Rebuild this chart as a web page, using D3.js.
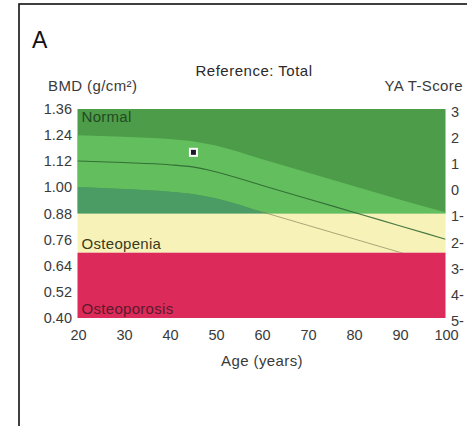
<!DOCTYPE html>
<html>
<head>
<meta charset="utf-8">
<script src="https://cdn.jsdelivr.net/npm/d3@7"></script>
<style>
  body { margin: 0; background: #fff; }
  svg { display: block; font-family: "Liberation Sans", Arial, sans-serif; }
</style>
</head>
<body>
<svg id="chart"></svg>
<script>
// reference curves (BMD g/cm2 by age)
var ages = [20, 30, 40, 45, 50, 60, 70, 80, 90, 100];
var upperBmd = [1.240, 1.232, 1.222, 1.212, 1.192, 1.130, 1.068, 1.006, 0.944, 0.886];
var meanBmd = [1.121, 1.114, 1.104, 1.094, 1.072, 1.010, 0.948, 0.886, 0.824, 0.762];
var lowerBmd = [1.002, 0.992, 0.980, 0.970, 0.950, 0.888, 0.826, 0.764, 0.702, 0.640];

var zoneNames = ["Normal", "Osteopenia", "Osteoporosis"];
var zoneLow = [0.88, 0.70, 0.40];
var zoneHigh = [1.36, 0.88, 0.70];

var bmdTicks = [1.36, 1.24, 1.12, 1.00, 0.88, 0.76, 0.64, 0.52, 0.40];
var tScoreValues = [3, 2, 1, 0, -1, -2, -3, -4, -5];
var tScoreLabels = ["3", "2", "1", "0", "1-", "2-", "3-", "4-", "5-"];
var ageTicks = [20, 30, 40, 50, 60, 70, 80, 90, 100];

var patientAge = [45.2];
var patientBmd = [1.161];

var width = 467, height = 426;
var svg = d3.select('#chart').attr('width', width).attr('height', height);

var x = d3.scaleLinear().domain([20, 100]).range([77.5, 445.5]);
var y = d3.scaleLinear().domain([0.40, 1.36]).range([318, 109]);
// young adult T-score: 0 at 1.00, 1 SD = 0.12
var yT = function (t) { return y(1.00 + 0.12 * t); };

// frame
svg.append('rect').attr('x', 19).attr('y', 4).attr('width', 460).attr('height', 440)
  .attr('fill', 'none').attr('stroke', '#111').attr('stroke-width', 1.6);

var defs = svg.append('defs');
defs.append('clipPath').attr('id', 'normalClip').append('rect')
  .attr('x', x(20)).attr('y', y(zoneHigh[0]))
  .attr('width', x(100) - x(20)).attr('height', y(zoneLow[0]) - y(zoneHigh[0]));
defs.append('clipPath').attr('id', 'lineClip').append('rect')
  .attr('x', x(20)).attr('y', y(1.36))
  .attr('width', x(100) - x(20)).attr('height', y(0.70) - y(1.36));

var zoneColors = ['#4d9c49', '#f7f3b8', '#dc2a5b'];
svg.selectAll('rect.zone')
  .data(zoneNames)
  .enter().append('rect')
  .attr('class', 'zone')
  .attr('x', x(20))
  .attr('width', x(100) - x(20))
  .attr('y', function (d, i) { return y(zoneHigh[i]); })
  .attr('height', function (d, i) { return y(zoneLow[i]) - y(zoneHigh[i]); })
  .attr('fill', function (d, i) { return zoneColors[i]; });

var pts = ages.map(function (a, i) { return { age: a, up: upperBmd[i], mean: meanBmd[i], low: lowerBmd[i] }; });

var band = svg.append('g').attr('clip-path', 'url(#normalClip)');
band.append('path')
  .attr('d', d3.area().curve(d3.curveMonotoneX)
    .x(function (d) { return x(d.age); })
    .y0(function (d) { return y(d.low); })
    .y1(function (d) { return y(d.up); })(pts))
  .attr('fill', '#63be5e');
band.append('path')
  .attr('d', d3.area().curve(d3.curveMonotoneX)
    .x(function (d) { return x(d.age); })
    .y0(function () { return y(0.40); })
    .y1(function (d) { return y(d.low); })(pts))
  .attr('fill', '#4b9b64');

// mean line, and the -1 SD line where it runs into the osteopenia band
var lineG = svg.append('g').attr('clip-path', 'url(#lineClip)');
lineG.append('path')
  .attr('d', d3.line().curve(d3.curveMonotoneX)
    .x(function (d) { return x(d.age); })
    .y(function (d) { return y(d.mean); })(pts))
  .attr('fill', 'none').attr('stroke', '#2c6330').attr('stroke-width', 1.1).attr('opacity', 0.85);
lineG.append('path')
  .attr('d', d3.line().curve(d3.curveMonotoneX)
    .x(function (d) { return x(d.age); })
    .y(function (d) { return y(d.low); })(pts.filter(function (d) { return d.low < 0.90; })))
  .attr('fill', 'none').attr('stroke', '#86865a').attr('stroke-width', 1).attr('opacity', 0.7);

// zone labels
var labelBmd = [1.36, 0.70, 0.40];
var labelColors = ['#234a22', '#3a3a1e', '#5c1a2a'];
svg.selectAll('text.zone')
  .data(zoneNames)
  .enter().append('text')
  .attr('class', 'zone')
  .attr('x', x(20) + 4)
  .attr('y', function (d, i) { return i === 0 ? y(labelBmd[i]) + 13 : y(labelBmd[i]) - 4; })
  .attr('font-size', 15)
  .attr('letter-spacing', 0.3)
  .attr('fill', function (d, i) { return labelColors[i]; })
  .text(function (d) { return d; });

// patient marker
svg.selectAll('g.pt')
  .data(patientAge)
  .enter().append('g')
  .attr('class', 'pt')
  .attr('transform', function (d, i) { return 'translate(' + x(d) + ',' + y(patientBmd[i]) + ')'; })
  .each(function () {
    d3.select(this).append('rect').attr('x', -4.5).attr('y', -4.5).attr('width', 9).attr('height', 9).attr('fill', '#fff');
    d3.select(this).append('rect').attr('x', -2.5).attr('y', -2.5).attr('width', 5).attr('height', 5).attr('fill', '#1a1a2a');
  });

// left axis labels
svg.selectAll('text.ly')
  .data(bmdTicks)
  .enter().append('text')
  .attr('class', 'ly')
  .attr('x', 72)
  .attr('y', function (d) { return y(d); })
  .attr('dy', '0.35em')
  .attr('text-anchor', 'end')
  .attr('font-size', 14.5)
  .attr('fill', '#3a3a3a')
  .text(function (d) { return d3.format('.2f')(d); });

// right T-score labels
svg.selectAll('text.ry')
  .data(tScoreValues)
  .enter().append('text')
  .attr('class', 'ry')
  .attr('x', 451)
  .attr('y', function (d) { return yT(d); })
  .attr('dy', '0.55em')
  .attr('font-size', 14.5)
  .attr('fill', '#3a3a3a')
  .text(function (d, i) { return tScoreLabels[i]; });

// bottom axis labels
svg.selectAll('text.lx')
  .data(ageTicks)
  .enter().append('text')
  .attr('class', 'lx')
  .attr('x', function (d) { return x(d) + 1; })
  .attr('y', 340)
  .attr('text-anchor', 'middle')
  .attr('font-size', 14.5)
  .attr('fill', '#3a3a3a')
  .text(function (d) { return d; });

svg.append('text').attr('x', 262).attr('y', 366).attr('text-anchor', 'middle')
  .attr('font-size', 15).attr('letter-spacing', 0.4).attr('fill', '#3a3a3a').text('Age (years)');
svg.append('text').attr('x', 48).attr('y', 91)
  .attr('font-size', 15).attr('letter-spacing', 0.4).attr('fill', '#3a3a3a').text('BMD (g/cm²)');
svg.append('text').attr('x', 463).attr('y', 91).attr('text-anchor', 'end')
  .attr('font-size', 15).attr('letter-spacing', 0.4).attr('fill', '#3a3a3a').text('YA T-Score');
svg.append('text').attr('x', 254).attr('y', 76).attr('text-anchor', 'middle')
  .attr('font-size', 15).attr('letter-spacing', 0.5).attr('fill', '#2a2a2a').text('Reference: Total');
svg.append('text').attr('x', 32).attr('y', 48)
  .attr('font-size', 23).attr('fill', '#111').text('A');
</script>
</body>
</html>
